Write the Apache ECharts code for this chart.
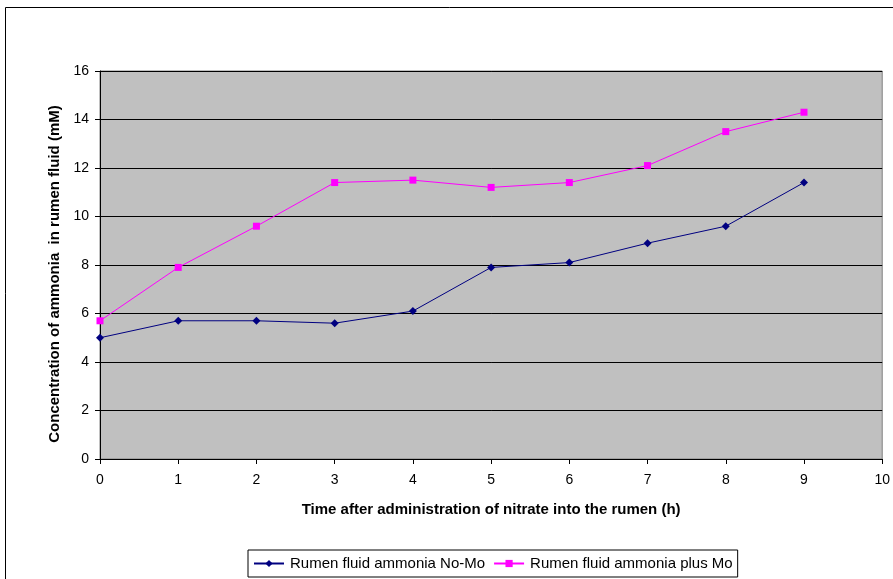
<!DOCTYPE html>
<html>
<head>
<meta charset="utf-8">
<script src="https://cdn.jsdelivr.net/npm/echarts@6/dist/echarts.min.js"></script>
<style>
  html, body { margin: 0; padding: 0; background: #fff; }
  #chart { width: 893px; height: 579px; }
</style>
</head>
<body>
<div id="chart"></div>
<script>
// Hours after nitrate administration
const hours = [0, 1, 2, 3, 4, 5, 6, 7, 8, 9];
// Rumen fluid ammonia (mM)
const noMo = [5.0, 5.7, 5.7, 5.6, 6.1, 7.9, 8.1, 8.9, 9.6, 11.4];
const plusMo = [5.7, 7.9, 9.6, 11.4, 11.5, 11.2, 11.4, 12.1, 13.5, 14.3];
const seriesNames = ['Rumen fluid ammonia No-Mo', 'Rumen fluid ammonia plus Mo'];

const chart = echarts.init(document.getElementById('chart'));
const font = 'Arial, "Liberation Sans", sans-serif';

chart.setOption({
  animation: false,
  backgroundColor: '#fff',
  textStyle: { fontFamily: font },
  graphic: [
    {
      type: 'rect',
      shape: { x: 5.5, y: 7.5, width: 900, height: 600 },
      style: { fill: 'none', stroke: '#000', lineWidth: 1 },
      silent: true, z: -1
    }
  ],
  grid: {
    left: 100, right: 8, top: 71, bottom: 120,
    show: true, backgroundColor: '#C0C0C0', borderColor: '#808080', borderWidth: 1
  },
  legend: {
    bottom: 2, left: 248,
    itemGap: 8, itemWidth: 30, itemHeight: 9,
    padding: [6, 5, 6, 5],
    borderColor: '#000', borderWidth: 1, borderRadius: 0,
    textStyle: { fontFamily: font, fontSize: 15, color: '#000', padding: [0, 0, 0, 1] },
    data: seriesNames
  },
  xAxis: {
    type: 'value', min: 0, max: 10, interval: 1,
    name: 'Time after administration of nitrate into the rumen (h)',
    nameLocation: 'middle', nameGap: 43,
    nameTextStyle: { fontFamily: font, fontSize: 15, fontWeight: 'bold', color: '#000' },
    axisLine: { show: true, onZero: false, lineStyle: { color: '#000', width: 1 } },
    axisTick: { show: true, inside: false, length: 5, lineStyle: { color: '#000' } },
    axisLabel: { fontFamily: font, fontSize: 14, color: '#000', margin: 14 },
    splitLine: { show: false }
  },
  yAxis: {
    type: 'value', min: 0, max: 16, interval: 2,
    name: 'Concentration of ammonia  in rumen fluid (mM)',
    nameLocation: 'middle', nameGap: 36,
    nameTextStyle: { fontFamily: font, fontSize: 15, fontWeight: 'bold', color: '#000', padding: [0, 18, 0, 0] },
    axisLine: { show: true, lineStyle: { color: '#000', width: 1 } },
    axisTick: { show: true, inside: false, length: 5, lineStyle: { color: '#000' } },
    axisLabel: { fontFamily: font, fontSize: 14, color: '#000', margin: 11 },
    splitLine: { show: true, lineStyle: { color: '#000', width: 1 } }
  },
  series: [
    {
      name: seriesNames[0], type: 'line',
      data: hours.map((h, i) => [h, noMo[i]]),
      symbol: 'diamond', symbolSize: 8,
      lineStyle: { color: '#000080', width: 1 },
      itemStyle: { color: '#000080' },
      z: 3
    },
    {
      name: seriesNames[1], type: 'line',
      data: hours.map((h, i) => [h, plusMo[i]]),
      symbol: 'rect', symbolSize: 7,
      lineStyle: { color: '#FF00FF', width: 1 },
      itemStyle: { color: '#FF00FF' },
      z: 2
    }
  ]
});
</script>
</body>
</html>
